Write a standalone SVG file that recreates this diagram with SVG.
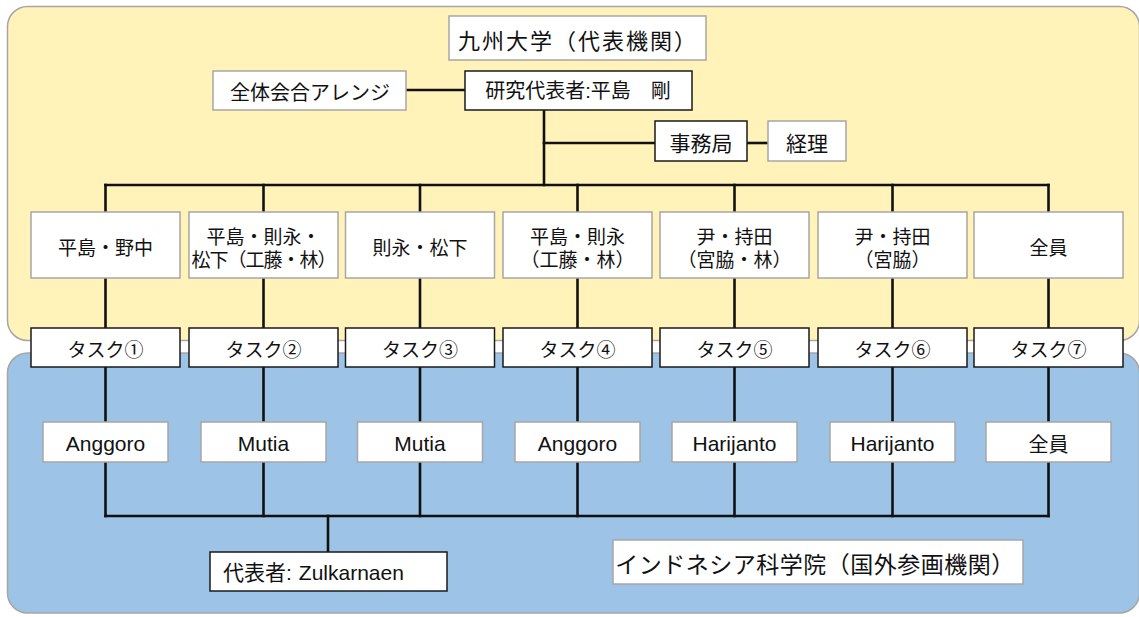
<svg xmlns="http://www.w3.org/2000/svg" width="1139" height="617" viewBox="0 0 1139 617">
<style>
.panel{stroke:#a6a6a6;stroke-width:1.5}
.g{fill:#fff;stroke:#a6a6a6;stroke-width:1.5}
.d{fill:#fff;stroke:#1a1a1a;stroke-width:1.5}
.t{font-family:'Liberation Sans','Noto Sans CJK JP',sans-serif;fill:#111;text-anchor:middle;dominant-baseline:central}
.c{font-family:'Noto Sans CJK JP',sans-serif;fill:#111;text-anchor:middle;dominant-baseline:central}
.conn line{stroke:#111;stroke-width:2.6;stroke-linecap:square}
</style>
<rect width="1139" height="617" fill="#fff"/>
<g id="panel-kyushu"><rect class="panel" x="7.5" y="6.5" width="1132" height="334" rx="20" fill="#fff3ba"/></g>
<g id="panel-lipi"><rect class="panel" x="7.5" y="353" width="1132" height="260" rx="20" fill="#9dc3e6"/></g>
<g class="conn" id="connectors">
<line x1="406" y1="90" x2="465" y2="90"/>
<line x1="544" y1="110" x2="544" y2="185"/>
<line x1="544" y1="143" x2="655" y2="143"/>
<line x1="747" y1="143" x2="768" y2="143"/>
<line x1="105.5" y1="185" x2="1048.5" y2="185"/>
<line x1="105.5" y1="185" x2="105.5" y2="212"/><line x1="263.5" y1="185" x2="263.5" y2="212"/><line x1="420" y1="185" x2="420" y2="212"/><line x1="577.5" y1="185" x2="577.5" y2="212"/><line x1="734.5" y1="185" x2="734.5" y2="212"/><line x1="892.5" y1="185" x2="892.5" y2="212"/><line x1="1048.5" y1="185" x2="1048.5" y2="212"/>
<line x1="105.5" y1="278" x2="105.5" y2="328"/><line x1="263.5" y1="278" x2="263.5" y2="328"/><line x1="420" y1="278" x2="420" y2="328"/><line x1="577.5" y1="278" x2="577.5" y2="328"/><line x1="734.5" y1="278" x2="734.5" y2="328"/><line x1="892.5" y1="278" x2="892.5" y2="328"/><line x1="1048.5" y1="278" x2="1048.5" y2="328"/>
<line x1="105.5" y1="367" x2="105.5" y2="422"/><line x1="263.5" y1="367" x2="263.5" y2="422"/><line x1="420" y1="367" x2="420" y2="422"/><line x1="577.5" y1="367" x2="577.5" y2="422"/><line x1="734.5" y1="367" x2="734.5" y2="422"/><line x1="892.5" y1="367" x2="892.5" y2="422"/><line x1="1048.5" y1="367" x2="1048.5" y2="422"/>
<line x1="105.5" y1="462" x2="105.5" y2="516"/><line x1="263.5" y1="462" x2="263.5" y2="516"/><line x1="420" y1="462" x2="420" y2="516"/><line x1="577.5" y1="462" x2="577.5" y2="516"/><line x1="734.5" y1="462" x2="734.5" y2="516"/><line x1="892.5" y1="462" x2="892.5" y2="516"/><line x1="1048.5" y1="462" x2="1048.5" y2="516"/>
<line x1="105.5" y1="516" x2="1048.5" y2="516"/>
<line x1="328" y1="516" x2="328" y2="552"/>
</g>
<g id="kyushu-title"><rect class="g" x="449" y="16" width="257" height="44"/><text class="c" x="578" y="39" font-size="22" letter-spacing="2">九州大学（代表機関）</text></g>
<g id="meeting"><rect class="g" x="213" y="71" width="193" height="39"/><text class="c" x="310" y="91" font-size="20">全体会合アレンジ</text></g>
<g id="pi"><rect class="d" x="465" y="71" width="227" height="39"/><text class="t" x="578" y="91" font-size="20">研究代表者:平島　剛</text></g>
<g id="office"><rect class="d" x="655" y="121" width="92" height="40"/><text class="c" x="701" y="142" font-size="21">事務局</text></g>
<g id="accounting"><rect class="g" x="768" y="121" width="78" height="40"/><text class="c" x="807" y="142" font-size="21">経理</text></g>

<g id="team1"><rect class="g" x="31" y="212" width="149" height="66"/><text class="c" x="105.5" y="246" font-size="19">平島・野中</text></g>
<g id="team2"><rect class="g" x="189" y="212" width="149" height="66"/><text class="c" font-size="19"><tspan x="263.5" y="235">平島・則永・</tspan><tspan x="263.5" y="258" letter-spacing="-1">松下（工藤・林）</tspan></text></g>
<g id="team3"><rect class="g" x="345.5" y="212" width="149" height="66"/><text class="c" x="420" y="246" font-size="19">則永・松下</text></g>
<g id="team4"><rect class="g" x="503" y="212" width="149" height="66"/><text class="c" font-size="19"><tspan x="577.5" y="235">平島・則永</tspan><tspan x="577.5" y="258">（工藤・林）</tspan></text></g>
<g id="team5"><rect class="g" x="660" y="212" width="149" height="66"/><text class="c" font-size="19"><tspan x="734.5" y="235">尹・持田</tspan><tspan x="734.5" y="258">（宮脇・林）</tspan></text></g>
<g id="team6"><rect class="g" x="818" y="212" width="149" height="66"/><text class="c" font-size="19"><tspan x="892.5" y="235">尹・持田</tspan><tspan x="892.5" y="258">（宮脇）</tspan></text></g>
<g id="team7"><rect class="g" x="974" y="212" width="149" height="66"/><text class="c" x="1048.5" y="246" font-size="19">全員</text></g>

<g id="task1"><rect class="d" x="31" y="328" width="149" height="39"/><text class="c" x="105.5" y="348" font-size="19">タスク①</text></g>
<g id="task2"><rect class="d" x="189" y="328" width="149" height="39"/><text class="c" x="263.5" y="348" font-size="19">タスク②</text></g>
<g id="task3"><rect class="d" x="345.5" y="328" width="149" height="39"/><text class="c" x="420" y="348" font-size="19">タスク③</text></g>
<g id="task4"><rect class="d" x="503" y="328" width="149" height="39"/><text class="c" x="577.5" y="348" font-size="19">タスク④</text></g>
<g id="task5"><rect class="d" x="660" y="328" width="149" height="39"/><text class="c" x="734.5" y="348" font-size="19">タスク⑤</text></g>
<g id="task6"><rect class="d" x="818" y="328" width="149" height="39"/><text class="c" x="892.5" y="348" font-size="19">タスク⑥</text></g>
<g id="task7"><rect class="d" x="974" y="328" width="149" height="39"/><text class="c" x="1048.5" y="348" font-size="19">タスク⑦</text></g>

<g id="partner1"><rect class="g" x="43" y="422" width="125" height="40"/><text class="t" x="105.5" y="443" font-size="21">Anggoro</text></g>
<g id="partner2"><rect class="g" x="201" y="422" width="125" height="40"/><text class="t" x="263.5" y="443" font-size="21">Mutia</text></g>
<g id="partner3"><rect class="g" x="357.5" y="422" width="125" height="40"/><text class="t" x="420" y="443" font-size="21">Mutia</text></g>
<g id="partner4"><rect class="g" x="515" y="422" width="125" height="40"/><text class="t" x="577.5" y="443" font-size="21">Anggoro</text></g>
<g id="partner5"><rect class="g" x="672" y="422" width="125" height="40"/><text class="t" x="734.5" y="443" font-size="21">Harijanto</text></g>
<g id="partner6"><rect class="g" x="830" y="422" width="125" height="40"/><text class="t" x="892.5" y="443" font-size="21">Harijanto</text></g>
<g id="partner7"><rect class="g" x="986" y="422" width="125" height="40"/><text class="c" x="1048.5" y="443" font-size="20">全員</text></g>

<g id="lipi-rep"><rect class="d" x="210" y="552" width="237" height="39"/><text class="t" x="223" y="572" font-size="21" style="text-anchor:start">代表者:<tspan dx="7">Zulkarnaen</tspan></text></g>
<g id="lipi-title"><rect class="g" x="613" y="540" width="410" height="44"/><text class="c" x="815" y="563" font-size="23" letter-spacing="0.5">インドネシア科学院（国外参画機関）</text></g>
</svg>
